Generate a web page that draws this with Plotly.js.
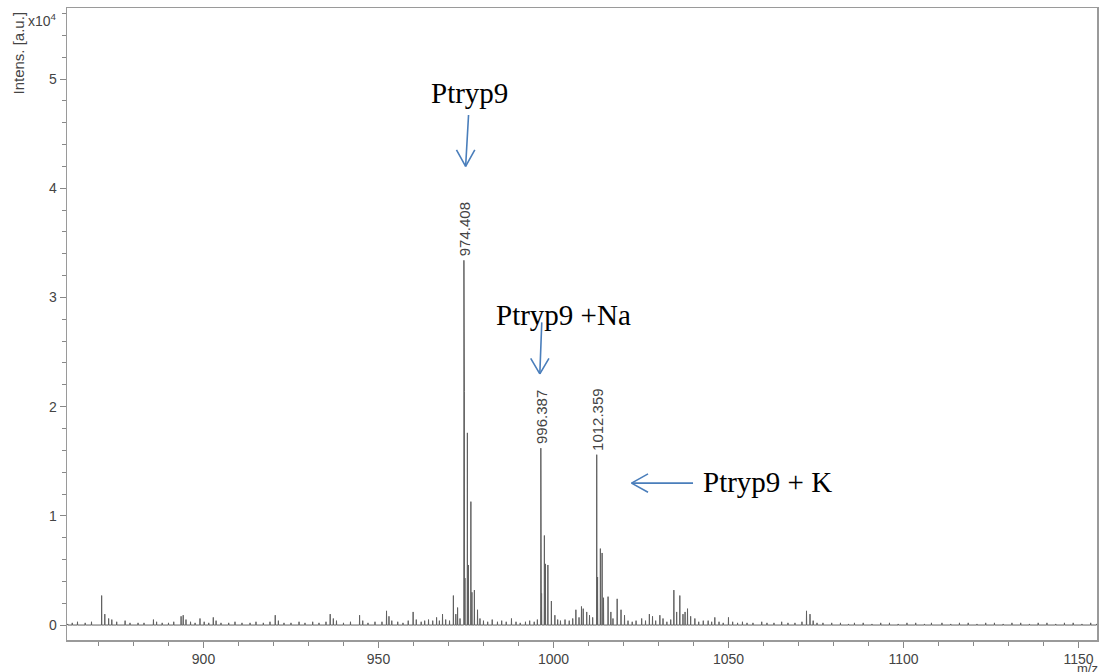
<!DOCTYPE html>
<html><head><meta charset="utf-8">
<script src="https://cdn.plot.ly/plotly-3.0.1.min.js"></script>
<style>html,body{margin:0;padding:0;background:#fff}</style>
</head><body><div id="chart" style="width:1099px;height:672px"></div>
<script>
// m/z positions of the spectrum sticks
const peakMz = [
 861.2, 862.5, 864.0, 866.2, 868.0, 870.9, 871.8, 872.9, 873.8, 875.2, 877.6, 879.0, 881.3, 883.0, 885.7, 886.6,
 888.2, 890.0, 891.5, 893.6, 894.2, 895.0, 896.3, 897.6, 899.0, 900.2, 901.5, 902.8, 903.6, 905.0, 907.2, 909.0,
 911.0, 913.3, 915.0, 917.1, 919.0, 920.5, 921.4, 923.0, 925.0, 927.3, 929.0, 931.2, 933.0, 935.0, 936.2, 937.1,
 938.0, 940.0, 942.0, 944.6, 945.5, 947.0, 949.0, 951.0, 952.3, 953.0, 953.8, 955.5, 957.0, 958.5, 959.9, 960.8,
 962.2, 963.2, 964.3, 965.5, 966.6, 967.4, 968.3, 969.2, 970.3, 971.4, 972.1, 972.6, 973.3,
 974.41, 974.55, 974.7, 975.4, 975.7, 976.4, 976.7, 977.4, 978.3, 979.0, 980.0, 981.2, 982.5, 984.0, 985.2, 986.5,
 988.0, 989.3, 990.5, 992.0, 993.2, 994.5, 995.4,
 996.39, 996.6, 997.4, 997.7, 998.4, 999.4, 1000.4, 1001.2, 1002.0, 1003.3, 1004.5, 1005.5, 1006.4, 1007.3, 1008.0,
 1008.5, 1009.5, 1010.3, 1011.2,
 1012.36, 1012.6, 1013.4, 1013.9, 1014.3, 1015.6, 1016.4, 1017.0, 1018.2, 1019.3, 1020.3, 1021.3, 1022.5, 1023.6,
 1025.2, 1026.3, 1027.4, 1028.3, 1029.2, 1030.4, 1031.3, 1032.4, 1033.5, 1034.4, 1035.2, 1036.1, 1037.0, 1037.6,
 1038.3, 1039.2, 1040.4, 1041.5, 1042.8, 1044.2, 1045.2, 1046.1, 1047.3, 1048.5, 1050.0, 1051.2, 1052.6, 1054.0,
 1055.3, 1057.0, 1059.5, 1061.0, 1063.0, 1065.2, 1067.0, 1069.0, 1071.0, 1072.3, 1073.3, 1074.2, 1075.3, 1077.0,
 1079.5, 1082.0, 1084.3, 1086.0, 1088.5, 1091.0, 1093.5, 1096.0, 1098.5, 1101.0, 1103.5, 1106.0, 1108.0, 1111.0,
 1113.5, 1116.0, 1118.5, 1121.0, 1123.5, 1126.0, 1128.5, 1131.0, 1133.5, 1136.0, 1138.5, 1141.0, 1143.5, 1146.0,
 1148.5, 1151.0, 1153.5, 1155.2
];
// intensities in units of 10^4 a.u.
const peakIntensity = [
 0.01, 0.02, 0.03, 0.02, 0.03, 0.27, 0.10, 0.06, 0.05, 0.03, 0.04, 0.02, 0.02, 0.02, 0.05, 0.03,
 0.02, 0.02, 0.03, 0.08, 0.09, 0.05, 0.03, 0.02, 0.06, 0.03, 0.02, 0.07, 0.04, 0.02, 0.02, 0.03,
 0.02, 0.02, 0.03, 0.02, 0.03, 0.09, 0.04, 0.02, 0.02, 0.03, 0.02, 0.03, 0.02, 0.03, 0.10, 0.06,
 0.04, 0.02, 0.03, 0.09, 0.04, 0.02, 0.03, 0.03, 0.13, 0.08, 0.04, 0.03, 0.02, 0.04, 0.12, 0.05,
 0.03, 0.04, 0.05, 0.04, 0.07, 0.04, 0.10, 0.05, 0.04, 0.27, 0.10, 0.16, 0.06,
 3.34, 2.14, 0.43, 1.76, 0.55, 1.13, 0.30, 0.32, 0.14, 0.06, 0.04, 0.03, 0.05, 0.03, 0.04, 0.03,
 0.06, 0.03, 0.02, 0.03, 0.04, 0.03, 0.05,
 1.62, 0.29, 0.82, 0.56, 0.55, 0.22, 0.09, 0.05, 0.04, 0.05, 0.04, 0.06, 0.14, 0.07, 0.17,
 0.15, 0.12, 0.09, 0.07,
 1.56, 0.44, 0.70, 0.66, 0.25, 0.26, 0.12, 0.06, 0.24, 0.14, 0.09, 0.04, 0.03, 0.04,
 0.06, 0.04, 0.10, 0.08, 0.04, 0.09, 0.06, 0.03, 0.05, 0.32, 0.12, 0.27, 0.10, 0.12,
 0.15, 0.08, 0.06, 0.03, 0.04, 0.04, 0.03, 0.07, 0.03, 0.02, 0.07, 0.03, 0.02, 0.03,
 0.02, 0.02, 0.03, 0.02, 0.02, 0.03, 0.02, 0.02, 0.03, 0.13, 0.10, 0.04, 0.02, 0.02,
 0.02, 0.02, 0.01, 0.02, 0.02, 0.01, 0.02, 0.02, 0.01, 0.02, 0.02, 0.01, 0.02, 0.02,
 0.01, 0.02, 0.02, 0.01, 0.02, 0.02, 0.01, 0.02, 0.02, 0.01, 0.02, 0.02, 0.01, 0.02,
 0.02, 0.01, 0.02, 0.01
];
// labelled peaks
const labelMz = [974.408, 996.387, 1012.359];
const labelIntensity = [3.34, 1.62, 1.56];
// assignment texts
const assignText = ["Ptryp9", "Ptryp9 +Na", "Ptryp9 + K"];
const xTickLabels = ["900", "950", "1000", "1050", "1100", "1150"];
const yTickLabels = ["0", "1", "2", "3", "4", "5"];

// stick spectrum built from the peak list
const xs = [], ys = [];
for (let i = 0; i < peakMz.length; i++) {
  xs.push(peakMz[i] - 0.05, peakMz[i], peakMz[i] + 0.05);
  ys.push(0, peakIntensity[i], 0);
}

const trace = {
  type: 'scatter', mode: 'lines', x: xs, y: ys,
  line: {color: '#606060', width: 1}, hoverinfo: 'skip', showlegend: false
};

const axisFont = {family: 'Liberation Sans, Arial, sans-serif', size: 14, color: '#444'};
const blue = '#4a7ebb';
const serif = {family: 'Liberation Serif, Times New Roman, serif', size: 29, color: '#000'};

const annotations = [];
// peak value labels
labelMz.forEach((m, i) => annotations.push({
  x: m, y: labelIntensity[i], xref: 'x', yref: 'y', text: m.toFixed(3),
  textangle: -90, showarrow: false, xanchor: 'center', yanchor: 'bottom', yshift: 2,
  font: {family: 'Liberation Sans, Arial, sans-serif', size: 15, color: '#444'}
}));
// arrows: shaft + two arms, tips in data coordinates
function arrow(x, y, segs) {
  segs.forEach(s => annotations.push({
    x: x, y: y, xref: 'x', yref: 'y', ax: s[0], ay: s[1], axref: 'pixel', ayref: 'pixel',
    text: '', showarrow: true, arrowhead: 0, arrowwidth: 1.6, arrowcolor: blue, standoff: 0
  }));
}
arrow(974.9, 4.20, [[3, -53], [-10, -18], [10, -18]]);
arrow(996.1, 2.30, [[2, -53], [-10, -17], [10, -17]]);
arrow(1022.3, 1.30, [[63, 0], [18, -10], [18, 10]]);
// assignment texts
annotations.push({x: 975.9, y: 4.876, xref: 'x', yref: 'y', text: assignText[0], showarrow: false, xanchor: 'center', yanchor: 'middle', font: serif});
annotations.push({x: 1002.9, y: 2.84, xref: 'x', yref: 'y', text: assignText[1], showarrow: false, xanchor: 'center', yanchor: 'middle', font: serif});
annotations.push({x: 1061.2, y: 1.31, xref: 'x', yref: 'y', text: assignText[2], showarrow: false, xanchor: 'center', yanchor: 'middle', font: serif});
// axis captions
annotations.push({x: 0, y: 1, xref: 'paper', yref: 'paper', xshift: -49, yshift: -2, text: 'Intens. [a.u.]',
  textangle: -90, showarrow: false, xanchor: 'center', yanchor: 'top',
  font: {family: 'Liberation Sans, Arial, sans-serif', size: 15, color: '#444'}});
annotations.push({x: 0, y: 1, xref: 'paper', yref: 'paper', xshift: -8, yshift: -12, text: 'x10<sup>4</sup>',
  showarrow: false, xanchor: 'right', yanchor: 'middle',
  font: {family: 'Liberation Sans, Arial, sans-serif', size: 14, color: '#444'}});
annotations.push({x: 1, y: 0, xref: 'paper', yref: 'paper', xshift: -10, yshift: -19, text: 'm/z',
  showarrow: false, xanchor: 'center', yanchor: 'top',
  font: {family: 'Liberation Sans, Arial, sans-serif', size: 13, color: '#444'}});

const layout = {
  width: 1099, height: 672,
  margin: {l: 67, r: 2, t: 8, b: 32},
  paper_bgcolor: '#fff', plot_bgcolor: '#fff',
  showlegend: false,
  xaxis: {
    range: [861, 1155.3], tickmode: 'array', tickvals: xTickLabels.map(Number), ticktext: xTickLabels,
    ticks: 'outside', ticklen: 6, tickcolor: '#888', tickwidth: 1,
    showline: true, linecolor: '#9a9a9a', linewidth: 1.5, mirror: true,
    showgrid: false, zeroline: false, tickfont: axisFont,
    minor: {dtick: 10, tick0: 900, ticks: 'outside', ticklen: 4, tickcolor: '#888', showgrid: false}
  },
  yaxis: {
    range: [-0.137, 5.651], tickmode: 'array', tickvals: yTickLabels.map(Number), ticktext: yTickLabels,
    ticks: 'outside', ticklen: 6, tickcolor: '#888', tickwidth: 1,
    showline: true, linecolor: '#9a9a9a', linewidth: 1.5, mirror: true,
    showgrid: false, zeroline: false, tickfont: axisFont,
    minor: {dtick: 0.2, tick0: 0, ticks: 'outside', ticklen: 4, tickcolor: '#888', showgrid: false}
  },
  annotations: annotations
};

Plotly.newPlot('chart', [trace], layout, {staticPlot: true, displayModeBar: false});
</script></body></html>
